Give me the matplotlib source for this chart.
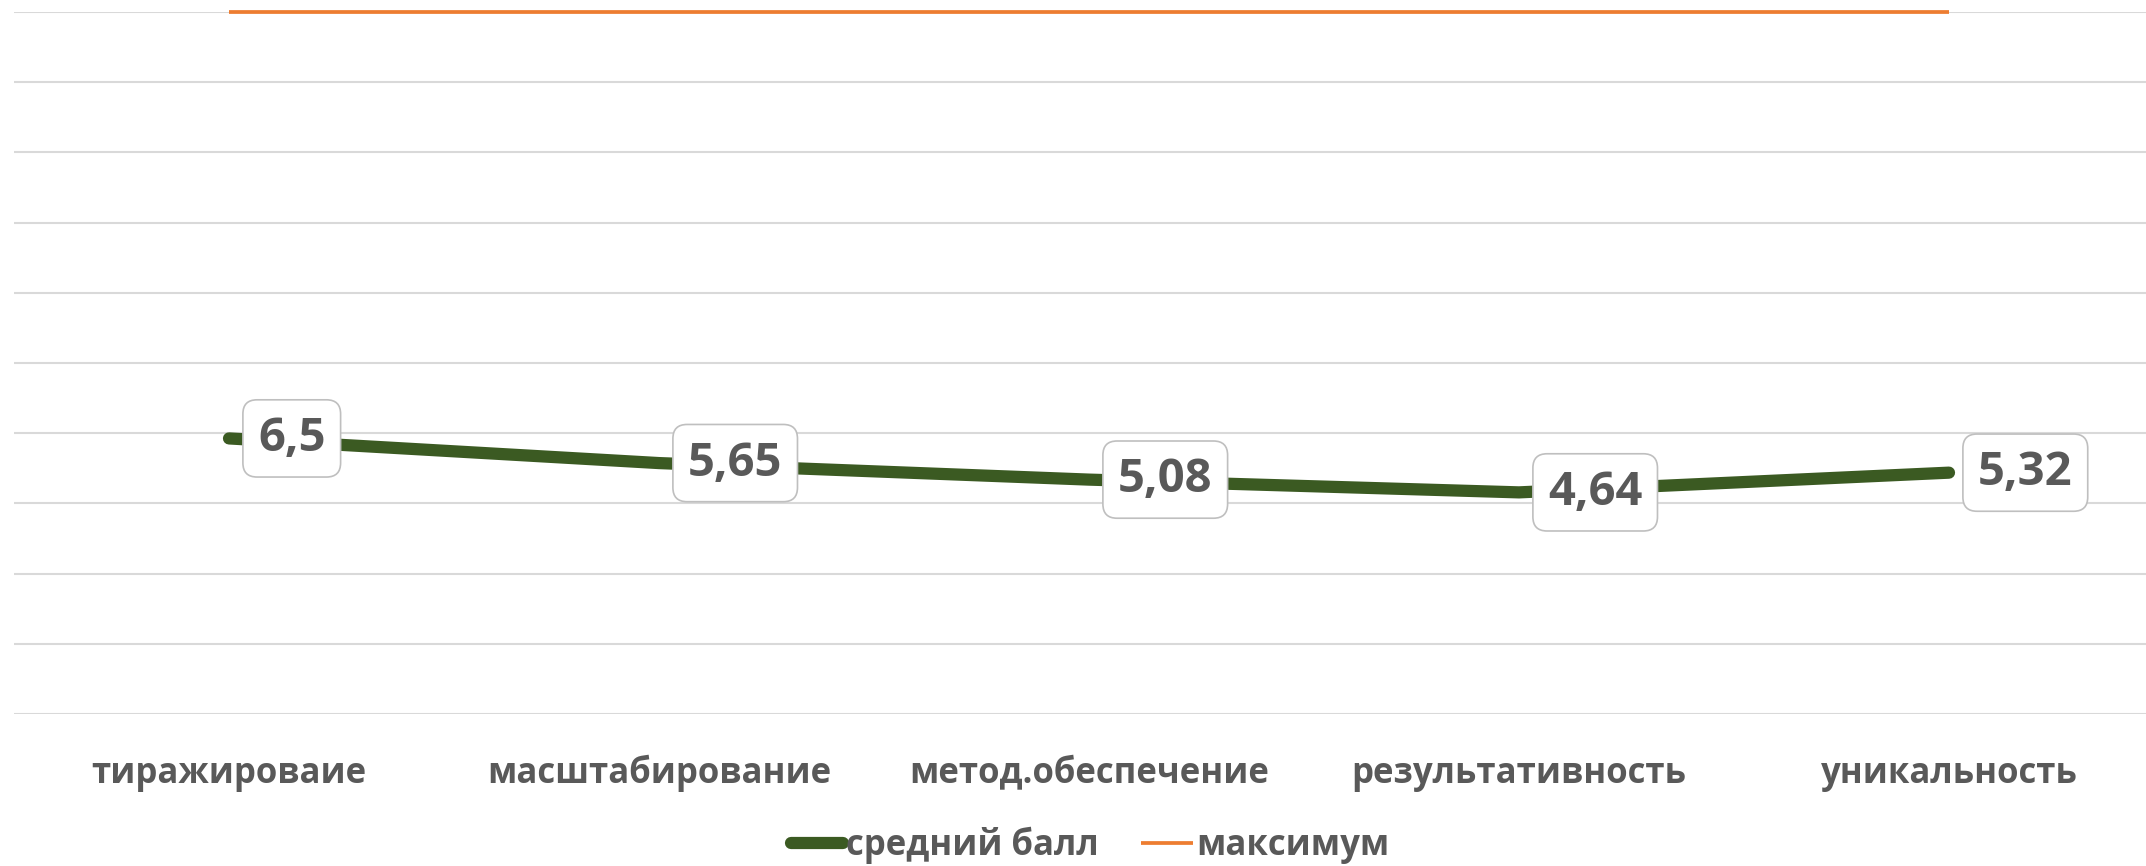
import numpy as np
import matplotlib
matplotlib.use('Agg')
import matplotlib.pyplot as plt

# ---------------- data ----------------
categories = ['тиражироваие', 'масштабирование', 'метод.обеспечение',
              'результативность', 'уникальность']
avg_score = [6.5, 5.65, 5.08, 4.64, 5.32]
max_score = [21.2, 21.2, 21.2, 21.2, 21.2]
avg_labels = ['6,5', '5,65', '5,08', '4,64', '5,32']

# ---------------- style ----------------
green = '#3b5a22'
orange = '#ed7d31'
text_grey = '#595959'
grid_grey = '#d9d9d9'
plt.rcParams['font.family'] = ['Open Sans', 'DejaVu Sans']

fig = plt.figure(figsize=(21.46, 8.66), dpi=100)
ax = fig.add_axes([14 / 2146, 1 - 714 / 866, 2150 / 2146, 702 / 866])

x = np.arange(len(categories))

ax.plot(x, avg_score, color=green, linewidth=8.8, solid_capstyle='round',
        label='средний балл', zorder=3)
ax.plot(x, max_score, color=orange, linewidth=2.7, solid_capstyle='butt',
        label='максимум', zorder=3, clip_on=False)

# data labels to the right of each point
for xi, yi, lab in zip(x, avg_score, avg_labels):
    ax.annotate(lab, (xi, yi), xytext=(29, 0), textcoords='offset pixels',
                ha='left', va='center', fontsize=34, fontweight='bold',
                color=text_grey, zorder=5,
                bbox=dict(boxstyle='round,pad=0.32,rounding_size=0.3',
                          fc='white', ec='#bfbfbf', lw=1.2))

# axes / grid
ymin, ymax = -3.0, 21.2
ax.set_ylim(ymin, ymax)
ax.set_xlim(-0.5, len(categories) - 0.5)
ax.set_yticks(np.linspace(ymin, ymax, 11))
ax.set_yticklabels([])
ax.yaxis.grid(True, color=grid_grey, linewidth=1.5)
ax.set_axisbelow(True)
for s in ax.spines.values():
    s.set_visible(False)
ax.tick_params(axis='both', length=0)
ax.set_xticks(x)
ax.set_xticklabels(categories, fontsize=25, fontweight='bold', color=text_grey)
# common baseline for category labels
for lbl in ax.get_xticklabels():
    lbl.set_va('baseline')
ax.tick_params(axis='x', pad=50)

leg = fig.legend(loc='center', bbox_to_anchor=(0.508, 0.024), ncol=2,
                 frameon=False, fontsize=25, handlelength=1.5,
                 handletextpad=0.1, columnspacing=1.2)
for t in leg.get_texts():
    t.set_color(text_grey)
    t.set_fontweight('bold')

fig.savefig('out.png', dpi=100)
